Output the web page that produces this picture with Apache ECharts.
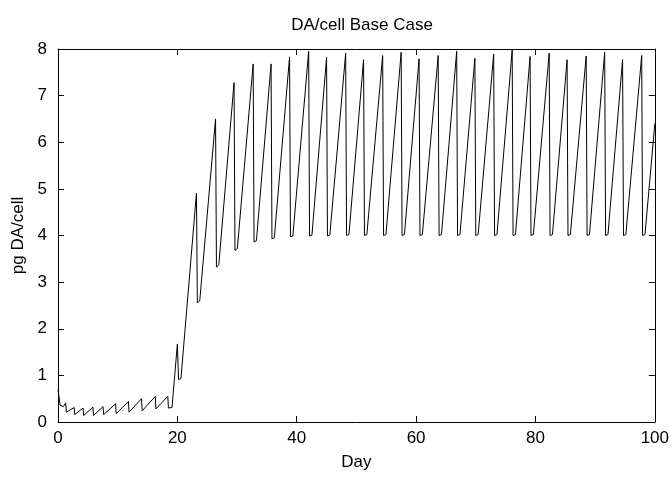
<!DOCTYPE html>
<html>
<head>
<meta charset="utf-8">
<script src="https://cdn.jsdelivr.net/npm/echarts@6/dist/echarts.min.js"></script>
<style>html,body{margin:0;padding:0;background:#fff;}#c{width:672px;height:479px;}</style>
</head>
<body>
<div id="c"></div>
<script>
var titleText = "DA/cell Base Case";
var xName = "Day";
var yName = "pg DA/cell";
var xTicks = [0, 20, 40, 60, 80, 100];
var yTicks = [0, 1, 2, 3, 4, 5, 6, 7, 8];

var days = [
  0, 0.35, 0.9, 1.3, 1.4, 2.7, 2.8, 4.2, 4.3, 5.85, 5.95, 7.55, 7.65, 9.65, 9.75,
  11.8, 11.9, 14.0, 14.1, 16.3, 16.4, 18.4, 18.5, 19.1, 20.0, 20.2, 20.6,
  23.2, 23.35, 23.75, 26.4, 26.55, 26.95, 29.5, 29.65, 30.05, 32.7, 32.85, 33.25,
  35.7, 35.85, 36.25, 38.8, 38.95, 39.35, 42.0, 42.15, 42.55, 45.0, 45.15, 45.55,
  48.2, 48.35, 48.75, 51.2, 51.35, 51.75, 54.4, 54.55, 54.95, 57.5, 57.65, 58.05,
  60.5, 60.65, 61.05, 63.7, 63.85, 64.25, 66.8, 66.95, 67.35, 69.85, 70.0, 70.4,
  73.0, 73.15, 73.55, 76.1, 76.25, 76.65, 79.1, 79.25, 79.65, 82.3, 82.45, 82.85,
  85.3, 85.45, 85.85, 88.5, 88.65, 89.05, 91.6, 91.75, 92.15, 94.6, 94.75, 95.15,
  97.8, 97.95, 98.35, 100
];
var daCell = [
  0.69, 0.36, 0.33, 0.41, 0.21, 0.31, 0.16, 0.30, 0.14, 0.32, 0.14, 0.33, 0.16, 0.39, 0.18,
  0.44, 0.21, 0.50, 0.24, 0.55, 0.28, 0.55, 0.30, 0.31, 1.67, 0.91, 0.93,
  4.91, 2.56, 2.60, 6.50, 3.32, 3.38, 7.28, 3.68, 3.72, 7.68, 3.86, 3.89,
  7.68, 3.93, 3.95, 7.83, 3.97, 3.99, 7.95, 3.99, 4.01, 7.82, 3.99, 4.01,
  7.91, 4.00, 4.02, 7.77, 4.00, 4.02, 7.86, 4.00, 4.02, 7.93, 4.00, 4.02,
  7.79, 4.00, 4.02, 7.86, 4.00, 4.02, 7.95, 4.00, 4.02, 7.80, 4.00, 4.02,
  7.89, 4.00, 4.02, 7.98, 4.00, 4.02, 7.84, 4.00, 4.02, 7.91, 4.00, 4.02,
  7.77, 4.00, 4.02, 7.85, 4.00, 4.02, 7.93, 4.00, 4.02, 7.77, 4.00, 4.02,
  7.86, 4.00, 4.02, 6.40
];

var pts = days.map(function (d, i) { return [d, daCell[i]]; });
var FONT = "Liberation Sans";
var FS = 17;
var chart = echarts.init(document.getElementById('c'), null, {renderer: 'canvas'});
var axisLine = {show: true, onZero: false, lineStyle: {color: '#000', width: 1}};
var tickIn = {show: true, inside: true, length: 6, lineStyle: {color: '#000', width: 1}};
chart.setOption({
  animation: false,
  backgroundColor: '#fff',
  title: {text: titleText, left: 357, textAlign: 'center', top: 12,
    textStyle: {fontFamily: FONT, fontSize: FS, fontWeight: 'normal', color: '#000'}},
  grid: {left: 58, right: 17, top: 49, bottom: 57, show: false},
  xAxis: [{
    type: 'value', min: xTicks[0], max: xTicks[xTicks.length - 1], interval: 20,
    name: xName, nameLocation: 'middle', nameGap: 32,
    nameTextStyle: {fontFamily: FONT, fontSize: FS, color: '#000'},
    axisLine: axisLine, axisTick: tickIn, splitLine: {show: false},
    axisLabel: {fontFamily: FONT, fontSize: FS, color: '#000', margin: 8}
  }, {
    type: 'value', position: 'top', min: 0, max: 100, interval: 20,
    axisLine: axisLine, axisTick: tickIn, splitLine: {show: false}, axisLabel: {show: false}
  }],
  yAxis: [{
    type: 'value', min: yTicks[0], max: yTicks[yTicks.length - 1], interval: 1,
    name: yName, nameLocation: 'middle', nameGap: 30, nameRotate: 90,
    nameTextStyle: {fontFamily: FONT, fontSize: FS, color: '#000'},
    axisLine: axisLine, axisTick: tickIn, splitLine: {show: false},
    axisLabel: {fontFamily: FONT, fontSize: FS, color: '#000', margin: 11}
  }, {
    type: 'value', position: 'right', min: 0, max: 8, interval: 1,
    axisLine: axisLine, axisTick: tickIn, splitLine: {show: false}, axisLabel: {show: false}
  }],
  series: [{
    type: 'line', xAxisIndex: 0, yAxisIndex: 0, data: pts,
    showSymbol: false, symbol: 'none', clip: false,
    lineStyle: {color: '#000', width: 1}
  }]
});
</script>
</body>
</html>
